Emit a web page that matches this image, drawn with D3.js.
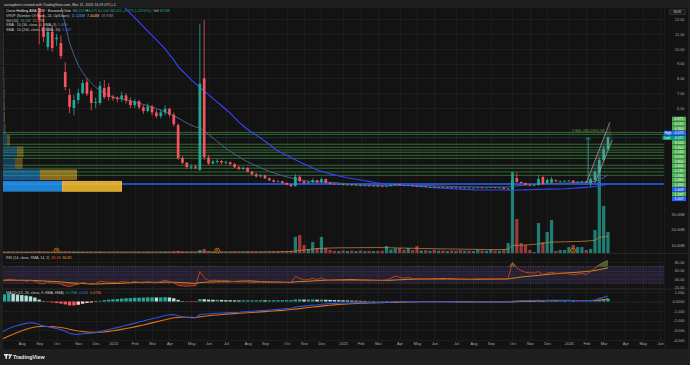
<!DOCTYPE html>
<html><head><meta charset="utf-8">
<script src="https://cdn.jsdelivr.net/npm/d3@7"></script>
<style>
html,body{margin:0;padding:0;background:#1e1e1e;}
svg{display:block;}
text{font-family:"Liberation Sans",Arial,sans-serif;white-space:pre;}
</style></head><body>
<svg id="c" width="690" height="365"></svg>
<script>
// ---------- DATA (weekly candles, Circio Holding ASA) ----------
const firstWeek = [2023, 6, 3];   // Monday of first bar
const lastWeek  = [2026, 2, 9];   // Monday of last bar
const opens = [17.8,16.9,16.0,17.2,16.3,15.6,16.0,14.9,15.1,14.2,
 11.47,10.12,11.14,10.65,10.39,8.43,6.88,6.00,6.54,7.01,
 7.75,7.15,6.34,6.34,7.35,7.42,6.75,6.68,6.60,6.85,
 6.50,6.20,6.45,6.05,5.80,6.10,5.70,5.45,5.70,5.95,
 5.55,4.85,2.62,2.30,1.98,2.05,1.82,8.00,2.65,2.25,
 2.35,2.42,2.30,2.33,2.20,2.00,1.88,1.95,1.70,1.52,
 1.38,1.45,1.25,1.12,1.02,1.06,0.93,0.82,0.72,1.35,
 1.05,0.92,0.98,1.12,0.98,1.20,0.95,0.88,0.85,0.86,
 0.80,0.82,0.78,0.80,0.75,0.77,0.72,0.74,0.71,0.69,
 0.73,0.80,0.86,0.79,0.75,0.78,0.73,0.70,0.71,0.67,
 0.68,0.65,0.67,0.64,0.65,0.62,0.63,0.60,0.62,0.59,
 0.61,0.63,0.60,0.62,0.64,0.60,0.62,0.53,0.50,1.27,
 1.00,0.93,0.80,0.78,0.80,1.34,0.93,0.95,1.12,1.02,
 1.05,1.07,1.10,0.97,1.00,1.04,0.90,1.14,1.68,2.49,
 3.225];
const highs = [18.6,17.5,17.9,17.6,16.9,16.4,16.2,15.6,15.4,14.5,
 12.4,11.5,11.6,11.0,10.9,9.1,7.3,6.9,7.3,7.9,
 8.0,7.3,6.7,7.8,7.9,7.7,6.9,6.8,7.1,7.0,
 6.7,6.6,6.55,6.2,6.3,6.2,5.9,5.9,6.2,6.0,
 5.7,4.95,2.75,2.35,2.2,2.15,11.7,11.95,2.8,2.5,
 2.55,2.5,2.45,2.4,2.3,2.1,2.05,2.0,1.75,1.6,
 1.55,1.5,1.3,1.18,1.12,1.08,0.98,0.86,1.55,1.45,
 1.10,1.05,1.25,1.15,1.30,1.22,0.98,0.92,0.90,0.89,
 0.85,0.85,0.83,0.82,0.79,0.80,0.76,0.77,0.74,0.75,
 0.84,0.92,0.89,0.81,0.81,0.80,0.75,0.74,0.73,0.70,
 0.70,0.69,0.69,0.67,0.67,0.65,0.65,0.64,0.64,0.62,
 0.65,0.65,0.63,0.66,0.66,0.64,0.64,0.60,1.60,1.66,
 1.05,0.96,0.84,0.84,1.47,1.40,1.25,1.35,1.18,1.10,
 1.12,1.14,1.13,1.05,1.08,1.07,1.30,1.80,2.70,3.45,
 4.075];
const lows = [16.4,15.6,15.8,15.9,15.2,14.9,14.6,14.2,13.9,10.3,
 10.46,9.9,9.8,10.2,9.3,7.2,5.65,5.5,6.3,6.9,
 6.8,5.85,6.0,6.2,6.6,6.5,6.5,6.4,6.4,6.3,
 6.0,6.0,5.9,5.6,5.7,5.5,5.3,5.3,5.5,5.4,
 4.75,2.50,2.2,1.9,1.85,1.85,1.75,2.5,2.15,2.2,
 2.25,2.2,2.2,2.1,1.95,1.8,1.8,1.65,1.45,1.3,
 1.3,1.2,1.05,0.95,0.97,0.88,0.78,0.66,0.70,0.98,
 0.86,0.88,0.94,0.92,0.95,0.90,0.82,0.82,0.82,0.77,
 0.77,0.75,0.75,0.72,0.72,0.69,0.69,0.68,0.66,0.66,
 0.70,0.78,0.76,0.72,0.72,0.70,0.67,0.67,0.64,0.64,
 0.62,0.62,0.61,0.61,0.59,0.59,0.57,0.57,0.56,0.56,
 0.58,0.57,0.57,0.59,0.57,0.57,0.52,0.50,0.48,0.95,
 0.88,0.76,0.74,0.74,0.75,0.82,0.88,0.90,1.00,0.98,
 1.00,1.03,0.92,0.93,0.96,0.94,0.65,1.10,1.62,2.40,
 3.10];
const closes = [16.9,16.0,17.2,16.3,15.6,16.0,14.9,15.1,14.2,11.95,
 10.80,11.14,10.05,10.75,9.51,7.42,6.07,6.54,7.01,7.69,
 6.95,6.34,6.40,7.49,6.74,6.74,6.65,6.60,6.85,6.50,
 6.20,6.45,6.05,5.80,6.10,5.70,5.45,5.70,5.95,5.55,
 4.90,2.62,2.30,2.00,2.05,1.97,7.65,2.69,2.25,2.38,
 2.42,2.32,2.36,2.22,2.00,1.88,1.95,1.70,1.52,1.38,
 1.45,1.25,1.12,1.02,1.06,0.93,0.82,0.72,1.35,1.05,
 0.92,0.98,1.12,0.98,1.20,0.95,0.88,0.85,0.86,0.80,
 0.82,0.78,0.80,0.75,0.77,0.72,0.74,0.71,0.69,0.73,
 0.80,0.86,0.79,0.75,0.78,0.73,0.70,0.71,0.67,0.68,
 0.65,0.67,0.64,0.65,0.62,0.63,0.60,0.62,0.59,0.61,
 0.63,0.60,0.62,0.64,0.60,0.62,0.53,0.55,1.14,1.00,
 0.93,0.80,0.78,0.80,1.20,0.86,1.14,1.20,1.05,1.06,
 1.08,1.10,0.96,1.02,1.04,0.98,1.20,1.68,2.49,3.24,
 4.015];
// volume in units of 10M (scale floor 0.5 sits on the pane bottom)
const volumes = [0.58,0.56,0.57,0.55,0.56,0.55,0.57,0.55,0.56,0.60,
 0.57,0.56,0.56,0.55,0.57,0.58,0.58,0.57,0.56,0.57,
 0.56,0.56,0.55,0.57,0.56,0.55,0.55,0.55,0.55,0.55,
 0.55,0.55,0.56,0.55,0.56,0.55,0.55,0.56,0.57,0.56,
 0.60,0.63,0.58,0.57,0.56,0.56,0.69,0.76,0.60,0.57,
 0.56,0.56,0.55,0.56,0.57,0.56,0.56,0.58,0.57,0.58,
 0.57,0.58,0.58,0.59,0.58,0.59,0.60,0.62,1.53,1.65,
 1.01,0.76,1.20,0.82,1.53,0.82,0.70,0.64,0.62,0.66,
 0.63,0.65,0.62,0.66,0.62,0.64,0.62,0.63,0.65,0.95,
 0.72,0.80,0.82,0.70,0.82,0.69,0.95,0.66,0.68,0.64,
 0.70,0.65,0.66,0.63,0.66,0.64,0.68,0.64,0.66,0.63,
 0.72,0.66,0.64,0.70,0.66,0.64,0.72,1.14,5.69,2.68,
 1.14,1.01,0.69,0.56,2.42,1.20,1.85,2.62,0.63,0.69,
 0.69,0.88,1.01,0.88,0.88,0.69,0.76,1.97,6.08,3.51,
 1.85];
const volMaWeek = [0,30,60,67,69,71,73,76,78,82,87,92,97,103,110,115,117,118,120,124,127,130,134,137,138,140];
const volMaVal  = [0.56,0.56,0.57,0.60,0.66,0.72,0.78,0.82,0.83,0.84,0.85,0.82,0.79,0.76,0.73,0.72,0.74,0.98,1.00,1.08,1.20,1.22,1.25,1.32,1.50,1.55];
const smaShort = [19.0,18.6,18.2,17.8,17.4,17.0,16.6,16.2,15.7,15.1,
 14.6,14.1,13.7,13.4,12.9,11.6,10.4,9.6,8.9,8.4,
 8.0,7.7,7.4,7.2,7.0,6.85,6.75,6.68,6.62,6.55,
 6.48,6.40,6.32,6.24,6.16,6.06,5.96,5.85,5.74,5.62,
 5.48,5.32,5.15,4.98,4.84,4.72,4.65,4.45,4.22,3.98,
 3.74,3.50,3.28,3.07,2.88,2.70,2.52,2.36,2.22,2.08,
 1.96,1.84,1.72,1.62,1.52,1.43,1.35,1.27,1.21,1.15,
 1.10,1.06,1.03,1.01,1.00,0.99,0.98,0.96,0.93,0.90,
 0.87,0.84,0.82,0.80,0.79,0.78,0.77,0.76,0.75,0.75,
 0.75,0.76,0.76,0.77,0.77,0.77,0.77,0.76,0.76,0.75,
 0.74,0.73,0.72,0.71,0.70,0.69,0.68,0.68,0.67,0.67,
 0.66,0.66,0.66,0.66,0.66,0.66,0.66,0.66,0.70,0.74,
 0.77,0.80,0.82,0.84,0.86,0.88,0.89,0.90,0.91,0.92,
 0.93,0.94,0.95,0.96,0.97,0.98,1.00,1.05,1.15,1.30,
 1.47];
const smaLong = [26.0,25.6,25.2,24.8,24.3,23.9,23.4,23.0,22.5,22.0,
 21.5,21.0,20.5,20.0,19.5,19.0,18.5,18.0,17.5,17.0,
 16.5,16.0,15.5,15.0,14.6,14.2,13.8,13.4,13.0,12.7,
 12.4,12.1,11.8,11.5,11.2,10.9,10.6,10.3,10.0,9.6,
 9.25,8.8,8.5,8.2,7.9,7.65,7.4,7.15,6.9,6.65,
 6.4,6.15,5.9,5.65,5.35,5.05,4.8,4.55,4.35,4.15,
 3.97,3.75,3.55,3.3,3.1,2.95,2.8,2.65,2.5,2.35,
 2.22,2.1,1.95,1.81,1.72,1.63,1.55,1.48,1.41,1.35,
 1.29,1.24,1.19,1.14,1.09,1.04,0.98,0.93,0.90,0.87,
 0.85,0.83,0.80,0.78,0.76,0.73,0.71,0.69,0.66,0.64,
 0.62,0.60,0.58,0.57,0.55,0.53,0.52,0.50,0.49,0.47,
 0.46,0.46,0.46,0.46,0.46,0.46,0.46,0.46,0.46,0.46,
 0.46,0.47,0.48,0.49,0.50,0.51,0.52,0.52,0.53,0.53,
 0.54,0.56,0.58,0.60,0.62,0.64,0.66,0.70,0.75,0.80,
 0.86];
const rsi = [38,37,40,38,36,38,35,37,35,30,
 29,33,30,31,28,24,22,26,28,32,
 30,28,29,35,33,33,32,32,34,33,
 32,34,32,31,34,32,31,34,37,34,
 31,25,24,23,24,24,58,44,36,37,
 37,36,37,35,34,33,34,33,32,32,
 33,32,32,32,33,32,32,32,46,42,
 38,39,42,39,43,38,37,37,37,36,
 37,36,37,36,37,36,37,37,37,38,
 42,47,44,42,44,41,40,41,39,40,
 39,40,39,40,39,40,39,40,39,40,
 41,40,41,41,40,41,40,41,80,66,
 60,56,55,54,58,51,54,56,54,54,
 55,53,50,52,53,51,58,66,74,80,
 84.28];
const rsiMa = [37,37,37.5,37.5,37,37,37,37,36.5,36,
 35.5,35,34.5,34,33.3,32.4,31.3,30.6,29.9,29.5,
 29,28.6,28.3,28.6,29,29.2,29.4,29.6,30,30.6,
 31.4,32,32.3,32.4,32.5,32.4,32.3,32.4,32.6,32.7,
 32.7,32.2,31.6,31,30.4,29.9,31.8,32.5,32.8,33.1,
 33.6,33.6,33.5,33.7,34.4,35,35.4,35.6,35.6,34.8,
 34,33.6,33.3,33,32.9,32.7,32.5,32.4,33.4,34.1,
 34.5,35,35.7,36.1,36.9,37.3,37.6,37.9,38.2,38.4,
 38.7,39,38.4,38,37.9,37.6,37.3,37.1,36.8,36.9,
 37.2,37.9,38.4,38.8,39.3,39.6,39.9,40.2,40.4,40.6,
 40.8,40.9,41,41.1,40.7,40.2,39.9,39.8,39.6,39.6,
 39.6,39.7,39.8,39.9,40,40.1,40.2,40.4,42,43.5,
 45,46,47,48,49,50,51,52,52.8,53.5,
 54.2,55,55.6,56.4,57.2,58,59,60.5,62.5,64.6,
 66.82];
const macdLine = [-3.30,-3.05,-2.80,-2.62,-2.50,-2.38,-2.28,-2.22,-2.25,-2.40,
 -2.55,-2.62,-2.72,-2.82,-2.93,-3.10,-3.30,-3.40,-3.42,-3.36,
 -3.32,-3.30,-3.25,-3.12,-3.02,-2.92,-2.82,-2.72,-2.60,-2.48,
 -2.38,-2.25,-2.14,-2.03,-1.90,-1.80,-1.70,-1.58,-1.45,-1.38,
 -1.36,-1.48,-1.58,-1.66,-1.70,-1.72,-1.35,-1.30,-1.30,-1.26,
 -1.22,-1.20,-1.18,-1.16,-1.14,-1.12,-1.08,-1.05,-1.02,-0.99,
 -0.95,-0.93,-0.90,-0.86,-0.82,-0.78,-0.74,-0.70,-0.58,-0.52,
 -0.48,-0.43,-0.38,-0.34,-0.28,-0.25,-0.22,-0.20,-0.18,-0.16,
 -0.15,-0.14,-0.13,-0.12,-0.11,-0.10,-0.10,-0.09,-0.08,-0.08,
 -0.06,-0.03,-0.02,-0.02,-0.01,-0.01,-0.01,-0.02,-0.02,-0.02,
 -0.03,-0.03,-0.03,-0.04,-0.04,-0.04,-0.05,-0.05,-0.05,-0.05,
 -0.05,-0.05,-0.05,-0.05,-0.05,-0.05,-0.05,-0.05,0.02,0.06,
 0.08,0.09,0.10,0.10,0.12,0.11,0.12,0.13,0.13,0.13,
 0.12,0.12,0.11,0.10,0.10,0.09,0.10,0.16,0.30,0.45,
 0.58];
const macdSignal = [-4.00,-3.80,-3.60,-3.40,-3.22,-3.05,-2.90,-2.76,-2.66,-2.60,
 -2.59,-2.60,-2.62,-2.66,-2.71,-2.79,-2.89,-2.99,-3.08,-3.13,
 -3.17,-3.20,-3.21,-3.19,-3.16,-3.11,-3.05,-2.98,-2.90,-2.82,
 -2.73,-2.64,-2.54,-2.44,-2.33,-2.23,-2.12,-2.01,-1.90,-1.80,
 -1.70,-1.65,-1.62,-1.64,-1.65,-1.66,-1.60,-1.54,-1.49,-1.44,
 -1.40,-1.36,-1.32,-1.29,-1.26,-1.23,-1.20,-1.17,-1.14,-1.11,
 -1.08,-1.05,-1.02,-0.99,-0.95,-0.92,-0.88,-0.84,-0.79,-0.74,
 -0.68,-0.63,-0.58,-0.53,-0.48,-0.43,-0.39,-0.35,-0.32,-0.29,
 -0.26,-0.23,-0.21,-0.19,-0.17,-0.16,-0.14,-0.13,-0.12,-0.11,
 -0.10,-0.09,-0.07,-0.06,-0.05,-0.04,-0.04,-0.03,-0.03,-0.03,
 -0.03,-0.03,-0.03,-0.03,-0.03,-0.04,-0.04,-0.04,-0.04,-0.05,
 -0.05,-0.05,-0.05,-0.05,-0.05,-0.05,-0.05,-0.05,-0.04,-0.02,
 0.00,0.02,0.04,0.05,0.06,0.07,0.08,0.09,0.10,0.10,
 0.11,0.11,0.11,0.11,0.11,0.10,0.10,0.11,0.15,0.21,
 0.28];
const macdHist = [0.70,0.75,0.80,0.78,0.72,0.67,0.62,0.54,0.41,0.20,
 0.04,-0.02,-0.10,-0.16,-0.22,-0.31,-0.41,-0.41,-0.34,-0.23,
 -0.15,-0.10,-0.04,0.07,0.14,0.19,0.23,0.26,0.30,0.34,
 0.35,0.39,0.40,0.41,0.43,0.43,0.42,0.43,0.45,0.42,
 0.34,0.17,0.04,-0.02,-0.05,-0.06,0.25,0.24,0.19,0.18,
 0.18,0.16,0.14,0.13,0.12,0.11,0.12,0.12,0.12,0.12,
 0.13,0.12,0.12,0.13,0.13,0.14,0.14,0.14,0.21,0.22,
 0.20,0.20,0.20,0.19,0.20,0.18,0.17,0.15,0.14,0.13,
 0.11,0.09,0.08,0.07,0.06,0.06,0.04,0.04,0.04,0.03,
 0.04,0.06,0.05,0.04,0.04,0.03,0.03,0.01,0.01,0.01,
 0.00,0.00,0.00,-0.01,-0.01,0.00,-0.01,-0.01,-0.01,0.00,
 0.00,0.00,0.00,0.00,0.00,0.00,0.00,0.00,0.06,0.08,
 0.08,0.07,0.06,0.05,0.06,0.04,0.04,0.04,0.03,0.03,
 0.01,0.01,0.00,-0.01,-0.01,-0.01,0.00,0.05,0.15,0.24,
 0.30];
// Visible-range volume profile (24 rows, up / down volume)
const vrvpStart = 0.32, vrvpRowSize = 0.777;
const vrvpUp   = [5.9,3.7,1.2,1.4,0.4,0.15,0.1,0.12,0.1,0.08,0.06,0.05,0.04,0.03,0.03,0.02,0.02,0.02,0.01,0.01,0.01,0.01,0.01,0.01];
const vrvpDown = [6.0,3.7,0.75,0.65,0.3,0.1,0.1,0.08,0.07,0.06,0.05,0.04,0.03,0.03,0.02,0.02,0.01,0.01,0.01,0.01,0.01,0.01,0.01,0.01];
const pocPrice = 0.86;
// user drawn horizontal levels
const levels = [4.35,4.22,3.55,3.35,3.16,3.01,2.80,2.60,2.13,1.93,1.68,1.45];
// earnings markers (week dates)
const earnings = ["2023-10-02","2024-06-17","2026-01-12"];
// price range measurement
const measureDate = "2026-02-05", measureFrom = 1.097, measureTo = 4.003;
const measureText = "2.906 (265.03%) 58";
const channelA = [["2026-02-02",0.93],["2026-03-12",5.05]];
const channelB = [["2026-02-16",0.93],["2026-03-16",3.85]];
// axes labels
const priceTicks = [6,7,8,9,10,11,12];
const volTicks = [1,2,3];
const volTickLabels = ["10.00M","20.00M","30.00M"];
const rsiTicks = [20,40,60,80];
const macdTicks = [1,0,-1,-2,-3,-4];
const macdTickLabels = ["1.000","0.0000","-1.000","-2.000","-3.000","-4.000"];
const tagTexts = ["4.875","4.515","4.350","4.075","4.015","3.550","3.350","3.160","3.010","2.800","2.600","2.130","1.930","1.680","1.450","1.609","1.297","1.007"];

// ---------- SETUP ----------
const svg = d3.select("#c");
const W = 690, H = 365;
const PL = 3, PR = 664, AXR = 688;
const N = Math.min(opens.length, highs.length, lows.length, closes.length, volumes.length);
const weeks = d3.utcMonday.range(new Date(Date.UTC(...firstWeek)), new Date(Date.UTC(lastWeek[0], lastWeek[1], lastWeek[2] + 1)));
const pd = s => { const p = s.split("-").map(Number); return new Date(Date.UTC(p[0], p[1]-1, p[2])); };

const x = d3.scaleUtc().domain([new Date(Date.UTC(2024,0,1)), new Date(Date.UTC(2026,2,9))]).range([113, 608]);
const yP = d3.scaleLinear().domain([0, 12]).range([196.8, 19.2]);
const yV = d3.scaleLinear().domain([0.5, 3]).range([253, 214]);
const yR = d3.scaleLinear().domain([30, 70]).range([283.3, 266.5]);
const yM = d3.scaleLinear().domain([0, 1]).range([301.5, 291.9]);
const wV = d3.scaleLinear().domain([0, 11.9]).range([0, 119]);

const UP = "#22ab94", DN = "#f7525f";

svg.append("rect").attr("width", W).attr("height", H).attr("fill", "#1f1f1f");
svg.append("rect").attr("x", PL).attr("y", 8).attr("width", AXR - PL).attr("height", 341).attr("fill", "#131313");

const defs = svg.append("defs");
function clip(id, x0, y0, w, h){ defs.append("clipPath").attr("id", id).append("rect").attr("x", x0).attr("y", y0).attr("width", w).attr("height", h); }
clip("cm", PL, 8, PR - PL, 245.5);
clip("cr", PL, 254, PR - PL, 35);
clip("cd", PL, 289.5, PR - PL, 50.5);

// month ticks at first weekly bar of each month
const months = d3.utcMonth.range(new Date(Date.UTC(2023,7,1)), new Date(Date.UTC(2026,6,1)));
const monthTicks = months.map(m => d3.utcMonday.ceil(m));
const monthFmt = d => (d.getUTCMonth() === 0 && d.getUTCDate() <= 7) ? d3.utcFormat("%Y")(d) : d3.utcFormat("%b")(d);

// grid
const grid = svg.append("g").attr("stroke", "#1d1d1d").attr("stroke-width", 1);
monthTicks.forEach(d => grid.append("line").attr("x1", Math.round(x(d)) + 0.5).attr("x2", Math.round(x(d)) + 0.5).attr("y1", 8).attr("y2", 340));
priceTicks.forEach(v => grid.append("line").attr("x1", PL).attr("x2", PR).attr("y1", Math.round(yP(v)) + 0.5).attr("y2", Math.round(yP(v)) + 0.5));
rsiTicks.forEach(v => grid.append("line").attr("x1", PL).attr("x2", PR).attr("y1", Math.round(yR(v)) + 0.5).attr("y2", Math.round(yR(v)) + 0.5));
macdTicks.forEach(v => grid.append("line").attr("x1", PL).attr("x2", PR).attr("y1", Math.round(yM(v)) + 0.5).attr("y2", Math.round(yM(v)) + 0.5));

// pane separators
[253.5, 289.2].forEach(y => svg.append("line").attr("x1", PL).attr("x2", AXR).attr("y1", y).attr("y2", y).attr("stroke", "#262626").attr("stroke-width", 1));
svg.append("line").attr("x1", PR + 0.5).attr("x2", PR + 0.5).attr("y1", 8).attr("y2", 349).attr("stroke", "#1c1c1c");

// ---------- MAIN PANE ----------
const gm = svg.append("g").attr("clip-path", "url(#cm)");
const idx = d3.range(N);

// volume bars
gm.append("g").selectAll("rect").data(idx).join("rect")
  .attr("x", i => x(weeks[i]) - 1.6).attr("width", 3.2)
  .attr("y", i => yV(volumes[i])).attr("height", i => Math.max(0.5, 253 - yV(volumes[i])))
  .attr("fill", i => closes[i] >= opens[i] ? "rgba(38,166,154,0.72)" : "rgba(239,83,80,0.62)");
// volume MA
gm.append("path").datum(d3.range(volMaWeek.length))
  .attr("d", d3.line().x(j => x(weeks[volMaWeek[j]])).y(j => yV(volMaVal[j])).curve(d3.curveMonotoneX))
  .attr("fill", "none").attr("stroke", "#c98a45").attr("stroke-width", 0.8).attr("opacity", 0.9);

// earnings markers
earnings.forEach(s => {
  const cx = x(pd(s));
  gm.append("circle").attr("cx", cx).attr("cy", 250.6).attr("r", 2.4).attr("fill", "#131313").attr("stroke", "#f0921b").attr("stroke-width", 0.7);
  gm.append("text").attr("x", cx).attr("y", 251.9).attr("text-anchor", "middle").attr("font-size", 3.4).attr("fill", "#f0921b").text("E");
});

// horizontal levels
levels.forEach(v => gm.append("line").attr("x1", PL).attr("x2", PR).attr("y1", yP(v)).attr("y2", yP(v))
  .attr("stroke", "#4caf50").attr("stroke-width", 0.9).attr("opacity", 0.6));

// POC line
gm.append("line").attr("x1", PL).attr("x2", PR).attr("y1", yP(pocPrice)).attr("y2", yP(pocPrice))
  .attr("stroke", "#2962ff").attr("stroke-width", 1.4);

// VRVP
const vr = gm.append("g");
vrvpUp.forEach((u, i) => {
  const lo = vrvpStart + i * vrvpRowSize, hi = lo + vrvpRowSize;
  const y0 = yP(hi) + 0.4, h = yP(lo) - yP(hi) - 0.8;
  const op = i === 0 ? 0.85 : (i === 1 ? 0.5 : 0.32);
  vr.append("rect").attr("x", PL).attr("y", y0).attr("width", wV(u)).attr("height", h).attr("fill", "#2196f3").attr("opacity", op);
  vr.append("rect").attr("x", PL + wV(u)).attr("y", y0).attr("width", wV(vrvpDown[i])).attr("height", h).attr("fill", "#fbc02d").attr("opacity", op);
  if (i === 0) vr.append("rect").attr("x", PL + wV(u) + 0.4).attr("y", y0 + 0.4).attr("width", wV(vrvpDown[i]) - 0.8).attr("height", h - 0.8)
    .attr("fill", "none").attr("stroke", "#ffd866").attr("stroke-width", 0.5).attr("opacity", 0.6);
});

// SMAs
gm.append("path").datum(idx).attr("d", d3.line().x(i => x(weeks[i])).y(i => yP(smaShort[i])))
  .attr("fill", "none").attr("stroke", "#46648c").attr("stroke-width", 1);
gm.append("path").datum(idx).attr("d", d3.line().x(i => x(weeks[i])).y(i => yP(smaLong[i])))
  .attr("fill", "none").attr("stroke", "#3346ff").attr("stroke-width", 1.1);

// candles
const cg = gm.append("g");
idx.forEach(i => {
  const cx = x(weeks[i]), col = closes[i] >= opens[i] ? UP : DN;
  cg.append("line").attr("x1", cx).attr("x2", cx).attr("y1", yP(highs[i])).attr("y2", yP(lows[i])).attr("stroke", col).attr("stroke-width", 0.8);
  const top = yP(Math.max(opens[i], closes[i])), bot = yP(Math.min(opens[i], closes[i]));
  cg.append("rect").attr("x", cx - 1.35).attr("width", 2.7).attr("y", top).attr("height", Math.max(0.7, bot - top)).attr("fill", col);
});

// last price line
gm.append("line").attr("x1", PL).attr("x2", PR).attr("y1", yP(closes[N-1])).attr("y2", yP(closes[N-1]))
  .attr("stroke", "#22ab94").attr("stroke-width", 0.6).attr("stroke-dasharray", "1,1.2").attr("opacity", 0.8);

// parallel channel drawing
const chA = channelA.map(p => [x(pd(p[0])), yP(p[1])]);
const chB = channelB.map(p => [x(pd(p[0])), yP(p[1])]);
gm.append("path").attr("d", d3.line()([chA[0], chA[1], chB[1], chB[0]]) + "Z").attr("fill", "#9e9e9e").attr("opacity", 0.14);
[chA, chB].forEach(c => gm.append("path").attr("d", d3.line()(c)).attr("stroke", "#a8a8a8").attr("stroke-width", 0.7).attr("fill", "none"));

// measure arrow
const mx = x(pd(measureDate));
gm.append("line").attr("x1", mx).attr("x2", mx).attr("y1", yP(measureFrom)).attr("y2", yP(measureTo)).attr("stroke", "#2a9d8f").attr("stroke-width", 0.9);
gm.append("path").attr("d", `M${mx-2.2},${yP(measureTo)+2.2}L${mx},${yP(measureTo)}L${mx+2.2},${yP(measureTo)+2.2}`).attr("stroke", "#2a9d8f").attr("fill", "none").attr("stroke-width", 0.9);
gm.append("text").attr("x", mx).attr("y", yP(measureTo) - 5.6).attr("text-anchor", "middle").attr("font-size", 3.7).attr("fill", "#6f9c57").text(measureText);

// ---------- RSI PANE ----------
const gr = svg.append("g").attr("clip-path", "url(#cr)");
gr.append("rect").attr("x", PL).attr("width", PR - PL).attr("y", yR(70)).attr("height", yR(30) - yR(70)).attr("fill", "#7e57c2").attr("opacity", 0.18);
[70, 50, 30].forEach(v => gr.append("line").attr("x1", PL).attr("x2", PR).attr("y1", yR(v)).attr("y2", yR(v))
  .attr("stroke", "#8a8a9a").attr("stroke-width", 0.6).attr("stroke-dasharray", "1,1.5").attr("opacity", v === 50 ? 0.35 : 0.8));
gr.append("path").datum(idx).attr("d", d3.area().x(i => x(weeks[i])).y0(yR(70)).y1(i => yR(Math.max(70, rsi[i]))))
  .attr("fill", "#4caf50").attr("opacity", 0.55);
gr.append("path").datum(idx).attr("d", d3.area().x(i => x(weeks[i])).y0(yR(30)).y1(i => yR(Math.min(30, rsi[i]))))
  .attr("fill", "#f23645").attr("opacity", 0.35);
gr.append("path").datum(idx).attr("d", d3.line().x(i => x(weeks[i])).y(i => yR(rsiMa[i])))
  .attr("fill", "none").attr("stroke", "#d69a1e").attr("stroke-width", 0.9);
gr.append("path").datum(idx).attr("d", d3.line().x(i => x(weeks[i])).y(i => yR(rsi[i])))
  .attr("fill", "none").attr("stroke", "#c4461f").attr("stroke-width", 0.9);

// ---------- MACD PANE ----------
const gd = svg.append("g").attr("clip-path", "url(#cd)");
gd.append("line").attr("x1", PL).attr("x2", PR).attr("y1", yM(0)).attr("y2", yM(0)).attr("stroke", "#777").attr("stroke-dasharray", "1,1.5").attr("stroke-width", 0.5).attr("opacity", 0.4);
gd.append("g").selectAll("rect").data(idx).join("rect")
  .attr("x", i => x(weeks[i]) - 1.7).attr("width", 3.4)
  .attr("y", i => Math.min(yM(0), yM(macdHist[i]))).attr("height", i => Math.max(0.4, Math.abs(yM(macdHist[i]) - yM(0))))
  .attr("fill", i => {
    const v = macdHist[i], p = i > 0 ? macdHist[i-1] : v;
    if (v >= 0) return v >= p ? "#26a69a" : "#b2dfdb";
    return v <= p ? "#ff5252" : "#ffcdd2";
  });
gd.append("path").datum(idx).attr("d", d3.line().x(i => x(weeks[i])).y(i => yM(macdSignal[i])))
  .attr("fill", "none").attr("stroke", "#e0701a").attr("stroke-width", 1.1);
gd.append("path").datum(idx).attr("d", d3.line().x(i => x(weeks[i])).y(i => yM(macdLine[i])))
  .attr("fill", "none").attr("stroke", "#2c55d6").attr("stroke-width", 1.1);

// ---------- AXES ----------
function styleAxis(g){ g.select(".domain").remove(); g.selectAll("line").remove(); g.selectAll("text").attr("font-size", 3.9).attr("fill", "#a8a8a8").attr("font-family", "Liberation Sans, Arial, sans-serif"); }
const AX = 684.5;
svg.append("g").attr("transform", `translate(${AX},0)`).call(d3.axisLeft(yP).tickValues(priceTicks).tickSize(0).tickPadding(0).tickFormat(d3.format(".2f"))).call(styleAxis);
svg.append("g").attr("transform", `translate(${AX},0)`).call(d3.axisLeft(yV).tickValues(volTicks).tickSize(0).tickPadding(0).tickFormat((d, i) => volTickLabels[i])).call(styleAxis);
svg.append("g").attr("transform", `translate(${AX},0)`).call(d3.axisLeft(yR).tickValues(rsiTicks).tickSize(0).tickPadding(0).tickFormat(d3.format(".2f"))).call(styleAxis);
svg.append("g").attr("transform", `translate(${AX},0)`).call(d3.axisLeft(yM).tickValues(macdTicks).tickSize(0).tickPadding(0).tickFormat((d, i) => macdTickLabels[i])).call(styleAxis);
svg.append("g").attr("transform", "translate(0,342)").call(d3.axisBottom(x).tickValues(monthTicks).tickSize(0).tickPadding(0).tickFormat(monthFmt)).call(styleAxis)
  .selectAll("text").attr("dy", "0.71em");

// currency tag
svg.append("rect").attr("x", 669.5).attr("y", 9.5).attr("width", 16).attr("height", 5).attr("rx", 0.8).attr("fill", "#1c1c1c").attr("stroke", "#4a4a4a").attr("stroke-width", 0.5);
svg.append("text").attr("x", 677.5).attr("y", 13.2).attr("text-anchor", "middle").attr("font-size", 3.4).attr("fill", "#d0d0d0").text("NOK");

// price tag stack
const tagColor = i => (i === 3 || i === 15 || i === 17) ? "#2962ff" : (i === 4 ? "#089981" : "#4caf50");
tagTexts.forEach((t, i) => {
  const cy = 119 + i * 4.7;
  svg.append("rect").attr("x", 672).attr("y", cy - 2.3).attr("width", 14).attr("height", 4.5).attr("fill", tagColor(i));
  svg.append("text").attr("x", 679).attr("y", cy + 1.3).attr("text-anchor", "middle").attr("font-size", 3.5).attr("fill", "#ffffff").text(t);
});
[["High", 3, "#2962ff", 664], ["Last", 4, "#089981", 662.5]].forEach(([t, i, c, x0]) => {
  const cy = 119 + i * 4.7;
  svg.append("rect").attr("x", x0).attr("y", cy - 2.3).attr("width", 672 - x0).attr("height", 4.5).attr("fill", c);
  svg.append("text").attr("x", (x0 + 672) / 2).attr("y", cy + 1.3).attr("text-anchor", "middle").attr("font-size", 3.2).attr("fill", "#ffffff").text(t);
});

// ---------- LEGENDS ----------
function legend(y, parts, x0 = 6, fs = 3.6){
  const t = svg.append("text").attr("x", x0).attr("y", y).attr("font-size", fs);
  parts.forEach(([s, c]) => t.append("tspan").attr("fill", c).text(s));
}
const G = "#c9c9c9", T = "#22ab94";
svg.append("text").attr("x", 4).attr("y", 5.6).attr("font-size", 3.6).attr("fill", "#cfcfcf").text("sarsaybent created with TradingView.com, Mar 11, 2026 16:29 UTC+1");
legend(12.3, [["Circio Holding ASA · 1W · Euronext Oslo  ", "#e0e0e0"], ["O", G], ["3.225 ", T], ["H", G], ["4.075 ", T], ["L", G], ["3.100 ", T], ["C", G], ["4.015 ", T], ["+0.775 (+23.92%)  ", T], ["Vol ", G], ["18.5M", T]]);
legend(17.0, [["VRVP (Number Of Rows, 24, Up/Down)  ", G], ["11.526M  ", "#4aa3f0"], ["7.404M  ", "#f2c14e"], ["18.93M", "#8a8a8a"]]);
legend(21.6, [["Vol (20)  ", G], ["18.5M  ", T], ["15.53M", "#e08a3a"]]);
legend(26.3, [["SMA · 10 (30, close, 0, SMA, 9)  ", G], ["1.609", "#6f8fbf"]]);
legend(31.0, [["SMA · 10 (200, close, 0, SMA, 10)  ", G], ["1.007", "#5a6cff"]]);
legend(259.2, [["RSI (14, close, SMA, 14, 2)  ", G], ["84.28  ", "#e0602a"], ["66.82", "#e0a52a"]]);
legend(294.3, [["MACD (12, 26, close, 9, EMA, EMA)  ", G], ["0.1768  ", T], ["0.152  ", "#4a7aff"], ["0.0736", "#e0802a"]]);

// ---------- FOOTER ----------
const lg = svg.append("g").attr("fill", "#e6e6e6");
lg.append("rect").attr("x", 4).attr("y", 354).attr("width", 4.2).attr("height", 1.6);
lg.append("rect").attr("x", 5.4).attr("y", 354).attr("width", 1.6).attr("height", 4.8);
lg.append("circle").attr("cx", 9.2).attr("cy", 355).attr("r", 0.9);
lg.append("path").attr("d", "M8.3,358.8L10.7,354L12.2,354L9.9,358.8Z");
svg.append("text").attr("x", 13).attr("y", 358.6).attr("font-size", 5.4).attr("font-weight", "bold").attr("fill", "#e6e6e6").text("TradingView");
</script>
</body></html>
